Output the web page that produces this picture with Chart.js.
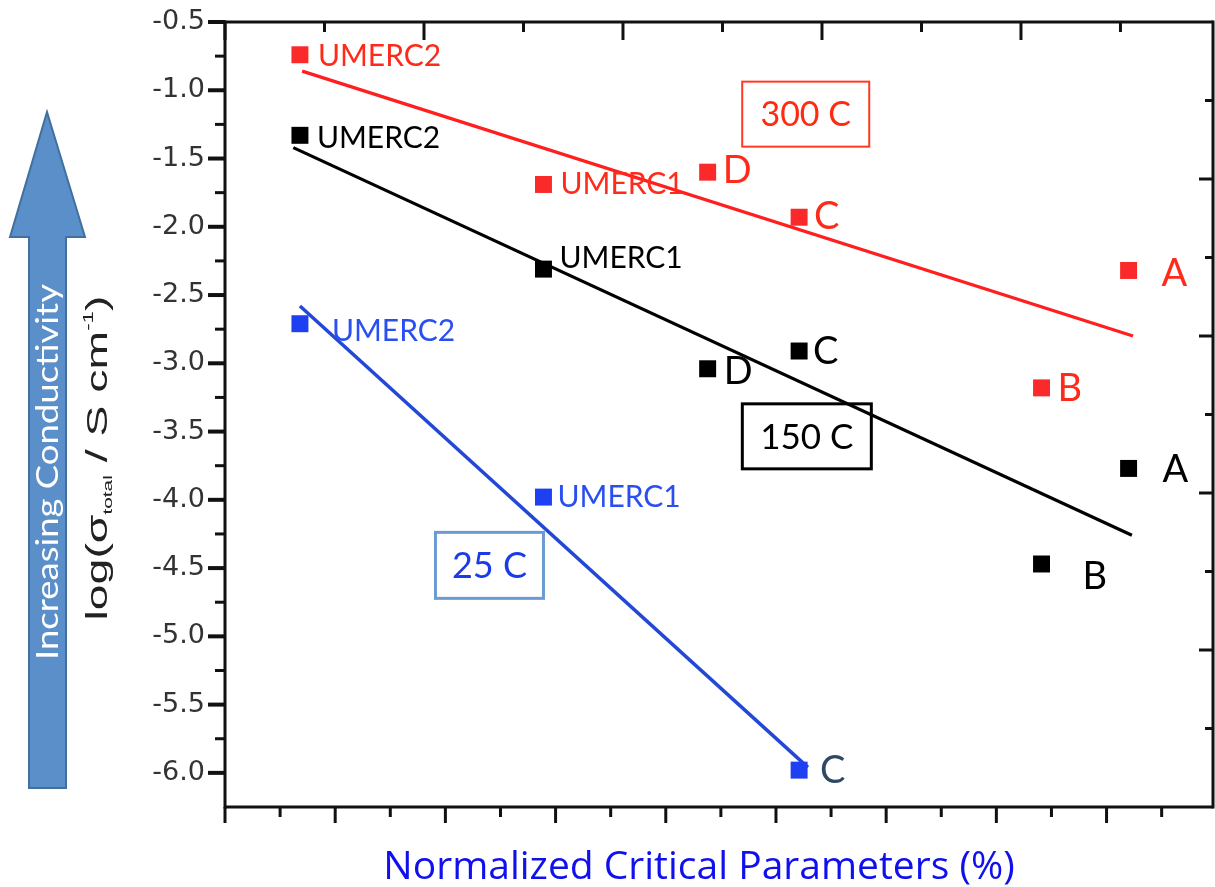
<!DOCTYPE html>
<html>
<head>
<meta charset="utf-8">
<script src="https://cdn.jsdelivr.net/npm/chart.js@4.4.0/dist/chart.umd.min.js"></script>
<style>
  html, body { margin: 0; padding: 0; background: #fff; }
  #wrap { width: 1215px; height: 887px; position: relative; }
</style>
</head>
<body>
<div id="wrap"><canvas id="chart"></canvas></div>
<script>
// samples along the x axis (normalized critical parameter, arbitrary units)
const samples = ['UMERC2', 'UMERC1', 'D', 'C', 'B', 'A'];
const criticalParam = [0.68, 2.89, 4.38, 5.21, 7.41, 8.20];

// log(sigma_total / S cm^-1)
const logSigma300 = [-0.74, -1.69, -1.60, -1.93, -3.18, -2.32];
const logSigma150 = [-1.33, -2.31, -3.04, -2.91, -4.47, -3.77];
const logSigma25 = [-2.71, -3.98, null, -5.98, null, null];

// linear fits (end points)
const fit300X = [0.70, 8.24];
const fit300Y = [-0.86, -2.80];
const fit150X = [0.62, 8.23];
const fit150Y = [-1.42, -4.26];
const fit25X = [0.68, 5.29];
const fit25Y = [-2.58, -5.96];

const yTickValues = [-0.5, -1.0, -1.5, -2.0, -2.5, -3.0, -3.5, -4.0, -4.5, -5.0, -5.5, -6.0];
const tempLabels = ['300 C', '150 C', '25 C'];

const RED = '#fb2a2a';
const BLUE = '#1f40f2';

function pts(xs, ys) {
  const out = [];
  xs.forEach((x, i) => {
    if (ys[i] !== null) out.push({ x: x, y: ys[i], name: samples[i] });
  });
  return out;
}
function line(xs, ys) {
  return xs.map((x, i) => ({ x: x, y: ys[i] }));
}

// label offsets / colours per series (px from marker centre)
const labelStyle = [
  { color: '#ff2a1a', offs: { UMERC2: [18, 0], UMERC1: [17, -1], D: [15, -3], C: [15, -2], B: [16, -1], A: [33, 2] } },
  { color: '#000', offs: { UMERC2: [17, 2], UMERC1: [16, -12], D: [16, 2], C: [14, -1], B: [41, 11], A: [34, 0] } },
  { color: '#2a4ff0', offs: { UMERC2: [32, 6], UMERC1: [14, -1], C: [21, -1] }, special: { C: '#2f4865' } }
];

const pointLabels = {
  id: 'pointLabels',
  afterDatasetsDraw(chart) {
    const ctx = chart.ctx;
    ctx.save();
    for (let i = 0; i < 3; i++) {
      const meta = chart.getDatasetMeta(i);
      const ds = chart.data.datasets[i];
      const st = labelStyle[i];
      meta.data.forEach((el, j) => {
        const name = ds.data[j].name;
        const small = name.length > 1;
        const size = small ? 30 : 38;
        const o = st.offs[name] || [16, 0];
        ctx.font = size + 'px Lato';
        ctx.fillStyle = (st.special && st.special[name]) || st.color;
        ctx.textAlign = 'left';
        ctx.textBaseline = 'alphabetic';
        ctx.fillText(name, el.x + o[0], el.y + o[1] + size * 0.36);
      });
    }
    ctx.restore();
  }
};

// temperature boxes, centre given in data units
const boxes = [
  { text: tempLabels[0], x: 5.27, y: -1.175, w: 127, h: 65, stroke: '#ff3a20', lw: 2, color: '#ff2a10', size: 34 },
  { text: tempLabels[1], x: 5.28, y: -3.535, w: 129, h: 65, stroke: '#000', lw: 3, color: '#000', size: 35 },
  { text: tempLabels[2], x: 2.40, y: -4.48, w: 108, h: 66, stroke: '#6b9bd1', lw: 3, color: '#1a3be8', size: 36 }
];

const decorations = {
  id: 'decorations',
  beforeDraw(chart) {
    const ctx = chart.ctx;
    ctx.save();
    ctx.fillStyle = '#fff';
    ctx.fillRect(0, 0, chart.width, chart.height);
    // big arrow
    ctx.beginPath();
    ctx.moveTo(47, 112);
    ctx.lineTo(85, 237);
    ctx.lineTo(66, 237);
    ctx.lineTo(66, 788);
    ctx.lineTo(29, 788);
    ctx.lineTo(29, 237);
    ctx.lineTo(10, 237);
    ctx.closePath();
    ctx.fillStyle = '#5b8fca';
    ctx.fill();
    ctx.lineWidth = 2;
    ctx.strokeStyle = '#41709f';
    ctx.stroke();
    ctx.translate(58, 472);
    ctx.rotate(-Math.PI / 2);
    ctx.font = '31px Lato';
    const tw = ctx.measureText('Increasing Conductivity').width;
    ctx.scale(376 / tw, 1);
    ctx.fillStyle = '#fff';
    ctx.textAlign = 'center';
    ctx.textBaseline = 'alphabetic';
    ctx.fillText('Increasing Conductivity', 0, 0);
    ctx.restore();
  },
  afterDraw(chart) {
    const { ctx, chartArea: a, scales } = chart;
    ctx.save();
    ctx.strokeStyle = '#111';
    const seg = (x1, y1, x2, y2) => { ctx.beginPath(); ctx.moveTo(x1, y1); ctx.lineTo(x2, y2); ctx.stroke(); };
    // frame
    ctx.lineWidth = 3;
    seg(a.left, a.top, a.right, a.top);
    seg(a.left, a.bottom, a.right, a.bottom);
    seg(a.left, a.top - 1.5, a.left, a.bottom + 1.5);
    seg(a.right, a.top - 1.5, a.right, a.bottom + 1.5);
    // bottom ticks (outward)
    for (let k = 0; k * 0.5 <= scales.x.max + 1e-6; k++) {
      const px = scales.x.getPixelForValue(k * 0.5);
      ctx.lineWidth = 3;
      seg(px, a.bottom, px, a.bottom + (k % 2 ? 10 : 16));
    }
    // left ticks (outward)
    for (let k = 0; -0.5 - k * 0.25 > scales.y.min + 1e-6; k++) {
      const py = scales.y.getPixelForValue(-0.5 - k * 0.25);
      ctx.lineWidth = k % 2 ? 3 : 4;
      seg(a.left, py, a.left - (k % 2 ? 10 : 17), py);
    }
    // top ticks (inward)
    for (let k = 0; k * 0.5 <= scales.x2.max + 1e-6; k++) {
      const px = scales.x2.getPixelForValue(k * 0.5);
      ctx.lineWidth = 3;
      seg(px, a.top, px, a.top + (k % 2 ? 10 : 18));
    }
    // right ticks (inward)
    for (let k = 1; k < scales.y2.max; k++) {
      const py = scales.y2.getPixelForValue(k);
      ctx.lineWidth = 3;
      seg(a.right, py, a.right - (k % 2 ? 8 : 14), py);
    }
    // temperature boxes
    boxes.forEach(b => {
      const cx = scales.x.getPixelForValue(b.x);
      const cy = scales.y.getPixelForValue(b.y);
      ctx.lineWidth = b.lw;
      ctx.strokeStyle = b.stroke;
      ctx.strokeRect(cx - b.w / 2, cy - b.h / 2, b.w, b.h);
      ctx.font = b.size + 'px Lato';
      ctx.fillStyle = b.color;
      ctx.textAlign = 'center';
      ctx.textBaseline = 'alphabetic';
      ctx.fillText(b.text, cx, cy + b.size * 0.36);
    });
    // x title
    ctx.font = '39px "Open Sans"';
    ctx.fillStyle = '#1010ee';
    ctx.textAlign = 'center';
    ctx.fillText('Normalized Critical Parameters (%)', 699, 879);
    // y title: log(σ_total / S cm^-1)
    ctx.translate(107, 458);
    ctx.rotate(-Math.PI / 2);
    ctx.scale(1.6, 1);
    ctx.fillStyle = '#222';
    ctx.textAlign = 'left';
    const parts = [
      ['log(σ', 29, 0], ['total', 13, 5], [' / S cm', 29, 0], ['-1', 14, -14], [')', 29, 0]
    ];
    let w = 0;
    parts.forEach(p => { ctx.font = p[1] + 'px "Liberation Sans"'; w += ctx.measureText(p[0]).width; });
    let x = -w / 2;
    parts.forEach(p => {
      ctx.font = p[1] + 'px "Liberation Sans"';
      ctx.fillText(p[0], x, p[2]);
      x += ctx.measureText(p[0]).width;
    });
    ctx.restore();
  }
};

const hidden = {
  display: true,
  ticks: { display: false },
  grid: { display: false, drawTicks: false },
  border: { display: false }
};

const ax = { xAxisID: 'x', yAxisID: 'y' };

new Chart(document.getElementById('chart'), {
  type: 'scatter',
  data: {
    datasets: [
      Object.assign({ data: pts(criticalParam, logSigma300), backgroundColor: RED, borderWidth: 0, pointStyle: 'rect', pointRadius: 12 }, ax),
      Object.assign({ data: pts(criticalParam, logSigma150), backgroundColor: '#000', borderWidth: 0, pointStyle: 'rect', pointRadius: 12 }, ax),
      Object.assign({ data: pts(criticalParam, logSigma25), backgroundColor: BLUE, borderWidth: 0, pointStyle: 'rect', pointRadius: 12 }, ax),
      Object.assign({ data: line(fit300X, fit300Y), showLine: true, borderColor: '#ff1f1f', borderWidth: 3.2, pointRadius: 0 }, ax),
      Object.assign({ data: line(fit150X, fit150Y), showLine: true, borderColor: '#000', borderWidth: 3.2, pointRadius: 0 }, ax),
      Object.assign({ data: line(fit25X, fit25Y), showLine: true, borderColor: '#2348d6', borderWidth: 3.5, pointRadius: 0 }, ax)
    ]
  },
  options: {
    responsive: true,
    maintainAspectRatio: false,
    animation: false,
    layout: { autoPadding: false, padding: { left: 0, top: 22, right: 2, bottom: 80 } },
    plugins: { legend: { display: false }, tooltip: { enabled: false } },
    scales: {
      x: Object.assign({}, hidden, { type: 'linear', position: 'bottom', min: 0, max: 8.966, afterFit: s => { s.height = 0; } }),
      x2: Object.assign({}, hidden, { type: 'linear', position: 'top', min: 0, max: 4.965, afterFit: s => { s.height = 0; } }),
      y2: Object.assign({}, hidden, { type: 'linear', position: 'right', min: 0, max: 10, afterFit: s => { s.width = 0; } }),
      y: {
        type: 'linear',
        position: 'left',
        min: -6.25,
        max: -0.5,
        grid: { display: false, drawTicks: false },
        border: { display: false },
        afterBuildTicks: s => { s.ticks = yTickValues.map(v => ({ value: v })); },
        afterFit: s => { s.width = 225; s.paddingTop = 0; s.paddingBottom = 0; },
        ticks: {
          padding: 20,
          color: '#333',
          font: { family: 'DejaVu Sans', size: 27 },
          callback: v => v.toFixed(1)
        }
      }
    }
  },
  plugins: [decorations, pointLabels]
});
</script>
</body>
</html>
